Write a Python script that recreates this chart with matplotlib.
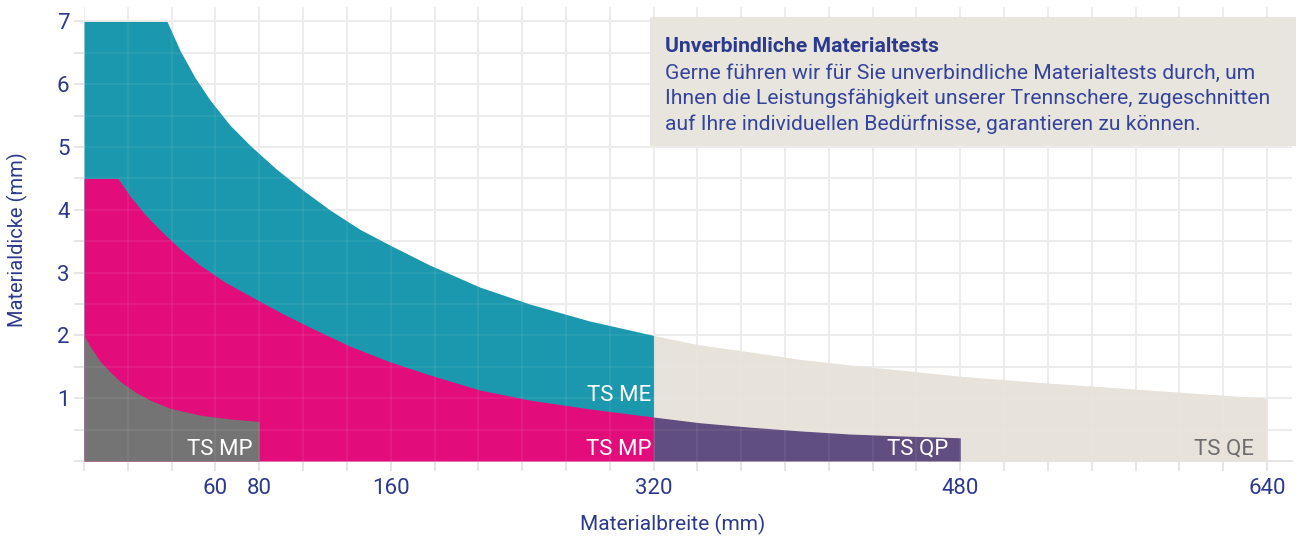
import matplotlib.pyplot as plt
import numpy as np
from matplotlib.patches import Rectangle

plt.rcParams['font.family'] = ['Roboto', 'DejaVu Sans']

# Materialbreite (mm) -> Materialdicke (mm)
me_breite = [0, 37.9, 43.8, 50.6, 57.5, 66.6, 75.7, 89.5, 104.7, 122.9, 141.2, 159.4, 183.8, 214.2, 244.6, 281, 320]
me_dicke = [7.0, 7.0, 6.54, 6.11, 5.75, 5.35, 5.03, 4.67, 4.35, 4.0, 3.69, 3.44, 3.12, 2.77, 2.5, 2.23, 2.0]

mp_breite = [0, 15.5, 21, 27.8, 34.7, 43.8, 52.9, 64.3, 75.7, 92.5, 110.8, 135.1, 159.4, 183.8, 214.2, 244.6, 281, 320]
mp_dicke = [4.5, 4.5, 4.22, 3.93, 3.68, 3.38, 3.12, 2.85, 2.63, 2.37, 2.13, 1.83, 1.58, 1.37, 1.13, 0.97, 0.83, 0.70]

mp_klein_breite = [0, 2.7, 7.3, 11.9, 16.4, 23.3, 30.1, 39.2, 52.9, 66.6, 80]
mp_klein_dicke = [2.0, 1.83, 1.59, 1.42, 1.27, 1.10, 0.97, 0.84, 0.73, 0.67, 0.63]

qe_breite = [320, 343.9, 370, 396.1, 422.1, 448.2, 480, 526.4, 578.5, 640]
qe_dicke = [2.0, 1.85, 1.74, 1.62, 1.53, 1.45, 1.35, 1.24, 1.13, 1.0]

qp_breite = [320, 343.9, 370, 396.1, 422.1, 448.2, 480]
qp_dicke = [0.70, 0.61, 0.54, 0.48, 0.43, 0.40, 0.37]

x_labels = [60, 80, 160, 320, 480, 640]

box_title = "Unverbindliche Materialtests"
box_lines = [
    "Gerne führen wir für Sie unverbindliche Materialtests durch, um",
    "Ihnen die Leistungsfähigkeit unserer Trennschere, zugeschnitten",
    "auf Ihre individuellen Bedürfnisse, garantieren zu können.",
]

# the width axis is not linear: equal grid steps of 20 / 26.7 / 22.9 mm
scale_w = [0, 80, 320, 640, 800]
scale_i = [0, 4, 13, 27, 34]


def fwd(x):
    return np.interp(x, scale_w, scale_i)


def inv(i):
    return np.interp(i, scale_i, scale_w)


teal = '#1B98AD'
magenta = '#E20D7B'
grau = '#747474'
lila = '#5F4E7F'
beige = '#E7E3DB'
navy = '#2B3A8C'
gridc = '#EBEBEB'

fig = plt.figure(figsize=(13.01, 5.36), dpi=100)
ax = fig.add_axes([84 / 1301, 75 / 536, 1208 / 1301, 454 / 536])
ax.set_xscale('function', functions=(fwd, inv))

ax.fill_between(qe_breite, 0, qe_dicke, color=beige, lw=0, zorder=2)
ax.fill_between(qp_breite, 0, qp_dicke, color=lila, lw=0, zorder=3)
ax.fill_between(me_breite, 0, me_dicke, color=teal, lw=0, zorder=2)
ax.fill_between(mp_breite, 0, mp_dicke, color=magenta, lw=0, zorder=3)
ax.fill_between(mp_klein_breite, 0, mp_klein_dicke, color=grau, lw=0, zorder=4)

lab = dict(fontsize=16, ha='right', va='center', zorder=6)
ax.text(77, 0.19, 'TS MP', color='white', **lab)
ax.text(318.5, 1.05, 'TS ME', color='white', **lab)
ax.text(318.5, 0.19, 'TS MP', color='white', **lab)
ax.text(474, 0.19, 'TS QP', color='white', **lab)
ax.text(633, 0.19, 'TS QE', color='#6E6E6E', **lab)

ax.set_xlim(0, inv(27.57))
ax.set_ylim(0, 7.23)

grid_x = inv(np.arange(0, 28))
ax.set_xticks(grid_x)
ax.set_xticklabels([str(int(round(v))) if int(round(v)) in x_labels else '' for v in grid_x])
ax.set_yticks(np.arange(0.5, 7.01, 0.5))
ax.set_yticklabels([str(int(v)) if v == int(v) else '' for v in np.arange(0.5, 7.01, 0.5)])
ax.set_yticks([0], minor=True)
ax.grid(True, color=gridc, linewidth=1.5, zorder=0)
ax.set_axisbelow(True)

# faint grid showing through the coloured areas
for gx in grid_x:
    ax.axvline(gx, color='white', alpha=0.07, lw=1.2, zorder=5)
for gy in np.arange(0.5, 7.01, 0.5):
    ax.axhline(gy, color='white', alpha=0.07, lw=1.2, zorder=5)

ax.tick_params(axis='x', length=7.5, width=1.2, color='#E2E2E2', pad=5, labelsize=16, labelcolor=navy)
ax.tick_params(axis='y', which='both', length=7.5, width=1.2, color='#E2E2E2', pad=3, labelsize=16, labelcolor=navy)

for s in ['top', 'right', 'left']:
    ax.spines[s].set_visible(False)
ax.spines['bottom'].set_color('#E2E2E2')
ax.spines['bottom'].set_linewidth(1.2)

ax.set_xlabel('Materialbreite (mm)', fontsize=15, color=navy)
ax.xaxis.set_label_coords(0.487, -0.117)
ax.set_ylabel('Materialdicke (mm)', fontsize=14.5, color=navy)
ax.yaxis.set_label_coords(-0.0465, 0.487)

# info box
fig.patches.append(Rectangle((650 / 1301, 390 / 536), 646 / 1301, 129 / 536,
                             transform=fig.transFigure, facecolor='#E8E5DE', edgecolor='none', zorder=5))
fig.text(665 / 1301, 1 - 46 / 536, box_title, fontsize=15.2, fontweight='bold', color=navy,
         va='center', zorder=6)
for k, line in enumerate(box_lines):
    fig.text(665 / 1301, 1 - (73 + 25.5 * k) / 536, line, fontsize=15.2, color='#34449A',
             va='center', zorder=6)

fig.savefig('out.png', dpi=100)
